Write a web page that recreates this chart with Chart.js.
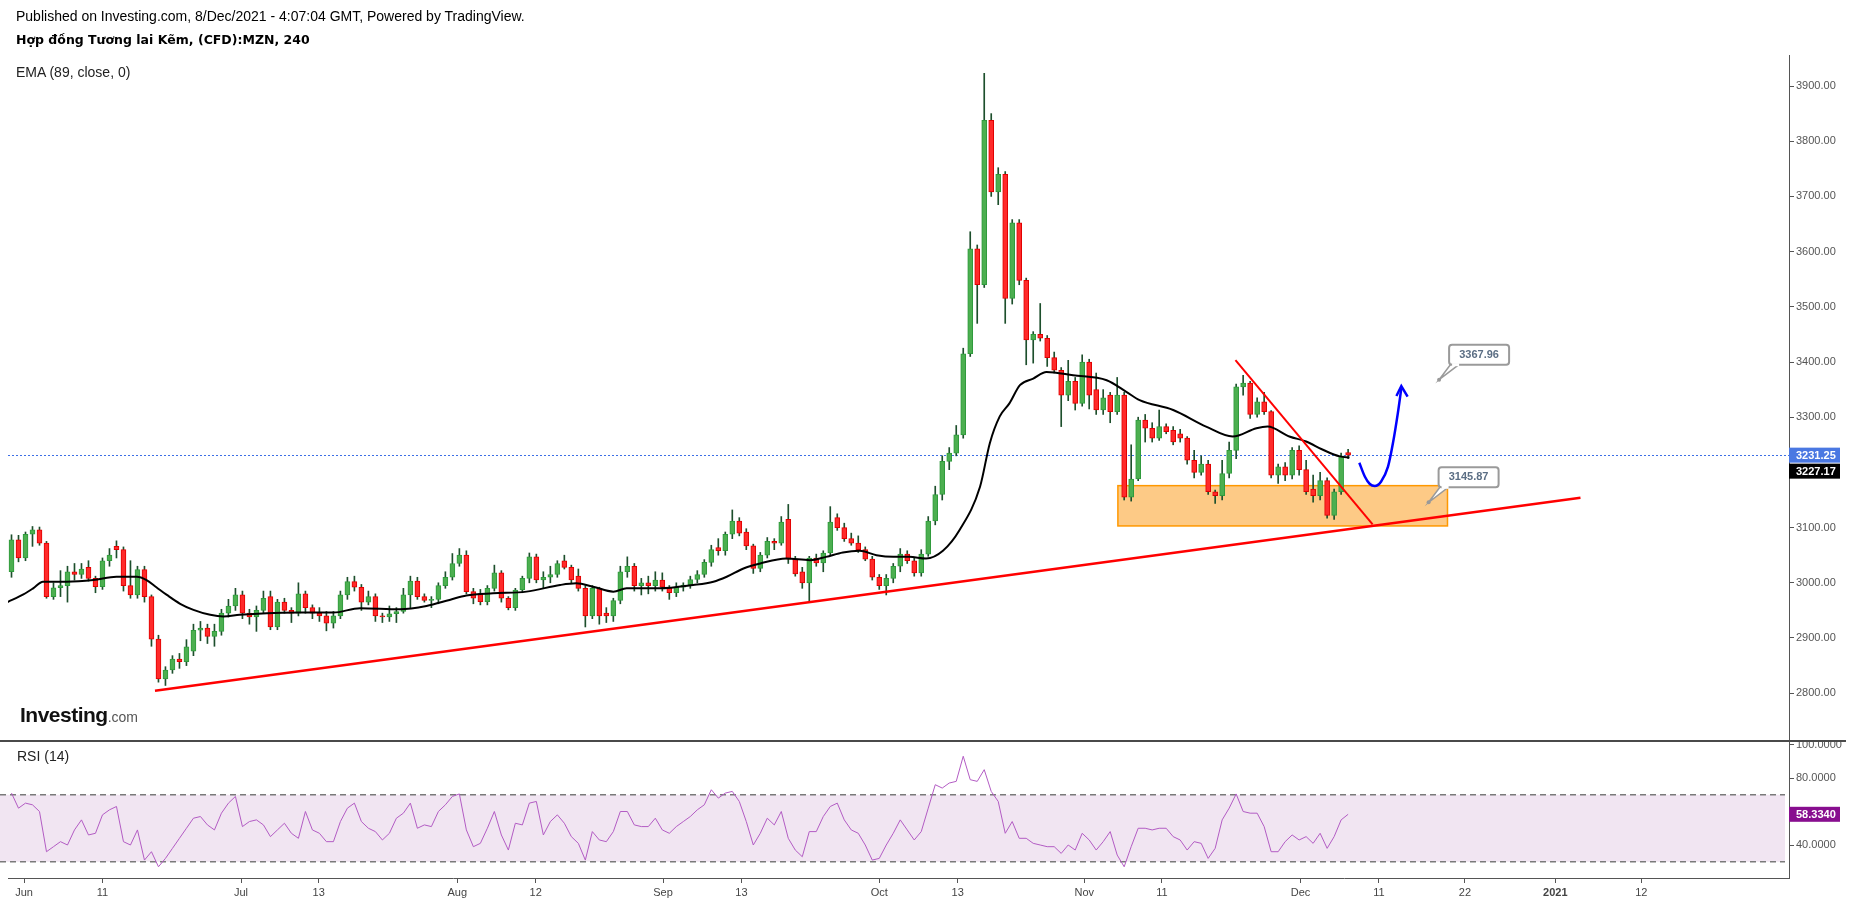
<!DOCTYPE html>
<html>
<head>
<meta charset="utf-8">
<script src="https://cdn.jsdelivr.net/npm/chart.js@4.4.0/dist/chart.umd.min.js"></script>
<style>
  body { margin: 0; background: #fff; width: 1853px; height: 902px; overflow: hidden; position: relative; font-family: "Liberation Sans", Arial, sans-serif; }
  canvas { position: absolute; left: 0; }
  #price { top: 0; }
  #rsi { top: 740px; }
  .txt { position: absolute; white-space: nowrap; color: #000; line-height: 16px; }
</style>
</head>
<body>
<canvas id="price" width="1853" height="740"></canvas>
<canvas id="rsi" width="1853" height="162"></canvas>
<div class="txt" style="left:16px;top:8px;font-size:14px">Published on Investing.com, 8/Dec/2021 - 4:07:04 GMT, Powered by TradingView.</div>
<div class="txt" style="left:16px;top:32px;font:bold 12.5px 'DejaVu Sans';line-height:16px">Hợp đồng Tương lai Kẽm, (CFD):MZN, 240</div>
<div class="txt" style="left:16px;top:64px;font-size:14px;color:#222">EMA (89, close, 0)</div>
<div class="txt" style="left:17px;top:748px;font-size:14px;color:#222">RSI (14)</div>
<div class="txt" style="left:20px;top:703px;font:bold 21px 'Liberation Sans';line-height:24px;color:#111;letter-spacing:-0.5px">Investing<span style="font:14px 'Liberation Sans';color:#555;letter-spacing:0">.com</span></div>
<script>
const F = '"Liberation Sans", Arial, sans-serif';

// 4h candles, [open, high, low, close]
const candles = [
  [3020,3087,3010,3078],[3078,3086,3038,3045],[3045,3092,3040,3088],[3088,3102,3066,3096],[3096,3101,3068,3072],
  [3072,3075,2972,2975],[2975,3000,2970,2991],[2991,3022,2975,2995],[2995,3030,2965,3020],[3020,3035,3005,3015],
  [3015,3035,3008,3025],[3028,3040,3003,3008],[3008,3012,2982,2993],[2993,3045,2988,3040],[3040,3062,3030,3050],
  [3066,3076,3045,3060],[3060,3065,2985,2995],[2995,3040,2972,2978],[2978,3030,2972,3024],[3024,3030,2965,2975],
  [2975,2978,2885,2898],[2898,2905,2820,2826],[2826,2848,2814,2842],[2842,2868,2836,2862],[2862,2872,2845,2857],
  [2857,2897,2850,2884],[2876,2925,2868,2914],[2914,2930,2895,2918],[2918,2925,2890,2903],[2903,2925,2885,2912],
  [2912,2952,2905,2945],[2945,2970,2938,2958],[2958,2990,2950,2978],[2978,2985,2935,2945],[2945,2952,2925,2938],
  [2938,2958,2912,2950],[2950,2985,2945,2972],[2975,2985,2915,2920],[2920,2970,2915,2965],[2965,2972,2945,2950],
  [2950,2955,2928,2945],[2945,3000,2940,2980],[2980,2985,2945,2955],[2955,2960,2935,2945],[2945,2955,2930,2940],
  [2940,2948,2913,2927],[2927,2948,2918,2940],[2940,2985,2935,2978],[2978,3010,2970,3002],[3002,3012,2985,2992],
  [2992,2997,2950,2965],[2965,2985,2960,2975],[2975,2980,2930,2940],[2940,2945,2928,2938],[2938,2958,2930,2944],
  [2944,2955,2928,2948],[2948,2990,2945,2978],[2978,3012,2955,3003],[3003,3010,2970,2975],[2975,2980,2965,2968],
  [2968,2975,2955,2970],[2970,3000,2962,2995],[2995,3020,2990,3010],[3010,3053,3005,3035],[3035,3062,3030,3050],
  [3050,3058,2980,2984],[2984,2990,2962,2972],[2980,2988,2960,2966],[2966,2995,2960,2990],[2990,3032,2985,3018],
  [3018,3022,2965,2972],[2972,2975,2951,2955],[2955,2990,2950,2987],[2987,3012,2982,3008],[3008,3054,3000,3047],
  [3047,3052,3000,3005],[3005,3020,2990,3010],[3010,3030,3000,3015],[3015,3040,3010,3035],[3040,3050,3025,3028],
  [3028,3032,3000,3005],[3012,3025,2985,2990],[2990,2995,2920,2940],[2940,2995,2935,2990],[2990,2992,2925,2940],
  [2945,2955,2928,2940],[2940,2972,2930,2968],[2968,3030,2962,3020],[3020,3047,3010,3030],[3030,3035,2985,2995],
  [2995,3008,2978,3000],[3000,3012,2980,2995],[2995,3020,2985,3005],[3005,3018,2985,2992],[2992,2995,2970,2982],
  [2982,3000,2975,2992],[2992,3000,2985,2996],[2996,3012,2990,3006],[3006,3022,3000,3015],[3015,3042,3010,3037],
  [3037,3068,3030,3060],[3064,3080,3050,3058],[3058,3092,3050,3088],[3088,3132,3080,3112],[3112,3118,3085,3090],
  [3092,3098,3060,3067],[3067,3070,3017,3026],[3026,3055,3020,3050],[3050,3082,3045,3075],[3075,3080,3060,3072],
  [3072,3120,3068,3110],[3115,3142,3035,3043],[3043,3048,3012,3016],[3020,3028,2990,3000],[3000,3048,2966,3045],
  [3045,3052,3030,3036],[3036,3058,3020,3054],[3054,3138,3050,3110],[3118,3125,3095,3100],[3100,3108,3075,3080],
  [3080,3090,3068,3072],[3072,3085,3055,3060],[3060,3065,3040,3043],[3043,3048,3005,3010],[3010,3015,2988,2995],
  [2995,3015,2978,3008],[3008,3035,3000,3030],[3030,3062,3020,3052],[3052,3058,3035,3040],[3040,3045,3012,3018],
  [3018,3060,3012,3052],[3052,3120,3048,3112],[3112,3175,3105,3160],[3160,3230,3150,3220],[3220,3245,3205,3235],
  [3235,3285,3230,3268],[3268,3425,3262,3415],[3415,3636,3410,3605],[3605,3612,3470,3540],[3540,3923,3535,3838],
  [3838,3850,3700,3708],[3708,3752,3685,3740],[3740,3745,3470,3515],[3515,3658,3505,3652],[3652,3658,3540,3548],
  [3548,3552,3395,3440],[3440,3455,3398,3450],[3450,3506,3438,3443],[3443,3448,3392,3408],[3408,3418,3380,3385],
  [3385,3390,3283,3340],[3340,3403,3330,3365],[3365,3372,3313,3325],[3325,3413,3320,3400],[3400,3405,3315,3340],
  [3350,3380,3305,3313],[3313,3350,3305,3335],[3340,3345,3290,3310],[3310,3372,3305,3340],[3340,3345,3150,3155],
  [3155,3250,3148,3188],[3188,3300,3185,3295],[3295,3305,3255,3280],[3280,3290,3255,3262],[3262,3313,3258,3283],
  [3283,3288,3270,3274],[3276,3283,3250,3255],[3270,3278,3255,3262],[3262,3265,3215,3222],[3222,3240,3190,3200],
  [3200,3230,3195,3215],[3215,3222,3160,3165],[3165,3168,3144,3158],[3158,3222,3150,3198],[3198,3255,3190,3240],
  [3240,3360,3225,3355],[3355,3376,3340,3362],[3362,3365,3298,3305],[3305,3335,3300,3328],[3328,3345,3305,3310],
  [3310,3312,3190,3195],[3195,3215,3180,3210],[3210,3218,3185,3195],[3195,3245,3188,3240],[3240,3248,3195,3205],
  [3205,3222,3160,3165],[3170,3195,3146,3158],[3158,3200,3150,3185],[3185,3190,3117,3122],[3122,3170,3115,3165],
  [3165,3235,3160,3230],[3236,3242,3225,3231.25]
];

// EMA(89), at candle positions
const emaAt = [-0.6,1.7,3.1,4.5,7.9,11.7,15.0,17.9,19.3,20.7,22.2,24.1,26.0,28.4,30.3,32.6,36.5,41.2,46.0,49.8,
  55.5,59.3,62.6,65.0,68.8,73.6,78.4,80.7,83.1,86.0,87.9,92.6,97.4,100.3,102.2,104.6,107.0,110.7,114.1,116.4,
  118.8,121.2,123.6,126.0,128.3,130.7,133.1,135.5,138.4,139.8,141.2,142.6,144.1,146.0,147.9,151.7,156.5,159.3,161.2,166.0,
  170.7,174.5,177.9,179.5,182.6,185.0,187.4,189.8,191.2];
const emaVal = [2965,2979,2990,3002,3002,3005,3011,3011,3005,2992,2978,2962,2951,2942,2939,2942,2945,2946,2946,2954,
  2952,2958,2969,2977,2981,2984,2996,2999,2993,2984,2990,2990,2996,3002,3011,3026,3035,3044,3041,3047,
  3055,3058,3050,3047,3047,3044,3058,3096,3174,3253,3301,3325,3358,3370,3382,3376,3367,3346,3331,3313,
  3283,3265,3280,3283,3265,3256,3241,3229,3227.17];

// RSI(14), one value per candle
const rsiVal = [
  71,62,65,64,60,36,39,42,40,49, 55,46,47,58,61,63,42,40,49,31, 36,27,32,38,44,50,56,57,52,49,
  59,65,69,51,54,55,52,45,49,53, 47,44,60,49,47,42,42,54,62,65, 54,50,48,43,47,56,59,65,50,52,
  51,60,64,69,70.5,49,39,41,50,60, 46,37,53,52,65,66,46,54,58,53, 45,41,31,48,43,42,48,60,60,52,
  51,51,56,49,47,51,54,57,61,64, 73,68,71,72,66,54,40,47,56,52, 60,44,37,33,48,48,57,63,65,55,
  49,47,40,31,32,40,47,55,49,43, 48,62,76,74,77,78,93,79,78,85, 72,66,47,54,44,44,41,40,39,39,
  35,40,37,47,43,37,42,48,34,27, 39,50,50,49,50,50,45,43,37,42, 41,32,38,55,62,70.5,60,59,59,51,
  36,36,42,46,43,45,41,47,38,45, 55,58.334
];

const priceTicks = [2800,2900,3000,3100,3200,3300,3400,3500,3600,3700,3800,3900];
const rsiTicks = [40,80,100];
const rsiBand = [30,70];
const dateTicks = [1.8,13.0,32.8,43.9,63.7,74.9,93.1,104.3,124.0,135.2,153.3,164.4,184.2,195.4,207.7,220.6,232.9];
const dateLabels = ['Jun','11','Jul','13','Aug','12','Sep','13','Oct','13','Nov','11','Dec','11','22','2021','12'];

// drawings on the price pane, in (candle position, price)
const supportX = [20.5,224.2], supportY = [2804.5,3154];
const resistX = [174.9,194.5], resistY = [3403.6,3106];
const zoneX = [158.1,205.2], zoneY = [3103,3176];
const pathX = [192.6,193.4,194.1,194.8,195.7,196.7,197.4,198.1,198.6];
const pathY = [3217.6,3192.2,3179,3175.4,3183.2,3210.4,3252.7,3307,3352.3];
const arrowX = [197.9,198.6,199.5], arrowY = [3338.4,3356.5,3337.1];
const calloutX = [204.0,202.5], calloutY = [3367.96,3145.87];
const lastPrice = 3231.25, lastEma = 3227.17, lastRsi = 58.334;

const pts = (xs, ys) => xs.map((x, i) => ({x, y: ys[i]}));
const isUp = candles.map(c => c[3] >= c[0]);

function boxPath(ctx, x, y, w, h, r) {
  ctx.beginPath();
  ctx.moveTo(x + r, y);
  ctx.lineTo(x + w - r, y); ctx.quadraticCurveTo(x + w, y, x + w, y + r);
  ctx.lineTo(x + w, y + h - r); ctx.quadraticCurveTo(x + w, y + h, x + w - r, y + h);
  ctx.lineTo(x + r, y + h); ctx.quadraticCurveTo(x, y + h, x, y + h - r);
  ctx.lineTo(x, y + r); ctx.quadraticCurveTo(x, y, x + r, y);
  ctx.closePath();
}

function axisTag(ctx, left, y, text, bg) {
  ctx.fillStyle = bg;
  ctx.fillRect(left, y - 7.5, 51, 15);
  ctx.fillStyle = '#fff';
  ctx.font = 'bold 11px ' + F;
  ctx.textAlign = 'left';
  ctx.textBaseline = 'middle';
  ctx.fillText(text, left + 7, y + 0.5);
}

const pricePlugin = {
  id: 'priceDecor',
  beforeDatasetsDraw(chart) {
    const {ctx, scales: {x, y}} = chart;
    const x0 = x.getPixelForValue(zoneX[0]), x1 = x.getPixelForValue(zoneX[1]);
    const y0 = y.getPixelForValue(zoneY[1]), y1 = y.getPixelForValue(zoneY[0]);
    ctx.save();
    ctx.fillStyle = '#fdca86';
    ctx.fillRect(x0, y0, x1 - x0, y1 - y0);
    ctx.strokeStyle = '#ff9800';
    ctx.lineWidth = 1.5;
    ctx.strokeRect(x0, y0, x1 - x0, y1 - y0);
    // last price line
    const ly = Math.round(y.getPixelForValue(lastPrice)) + 0.5;
    ctx.strokeStyle = '#3d6fe6';
    ctx.lineWidth = 1;
    ctx.setLineDash([2, 2]);
    ctx.beginPath();
    ctx.moveTo(chart.chartArea.left, ly);
    ctx.lineTo(chart.chartArea.right, ly);
    ctx.stroke();
    ctx.restore();
  },
  afterDatasetsDraw(chart) {
    const {ctx, scales: {x, y}} = chart;
    ctx.save();
    calloutX.forEach((xv, k) => {
      const px = x.getPixelForValue(xv), py = y.getPixelForValue(calloutY[k]);
      ctx.lineWidth = 1.5;
      ctx.strokeStyle = '#9a9a9a';
      ctx.fillStyle = '#fff';
      ctx.beginPath();
      ctx.moveTo(px, py);
      ctx.lineTo(px + 12, py - 16);
      ctx.lineTo(px + 21, py - 16);
      ctx.closePath();
      ctx.fill();
      ctx.stroke();
      boxPath(ctx, px + 10, py - 35, 60, 20, 3);
      ctx.fill();
      ctx.lineWidth = 2;
      ctx.stroke();
      ctx.fillStyle = '#fff';
      ctx.fillRect(px + 13, py - 16.5, 7, 3);
      ctx.fillStyle = '#5b6e84';
      ctx.font = 'bold 11px ' + F;
      ctx.textAlign = 'center';
      ctx.textBaseline = 'middle';
      ctx.fillText(calloutY[k].toFixed(2), px + 40, py - 25);
      ctx.fillStyle = '#999';
      ctx.beginPath();
      ctx.arc(px, py, 2, 0, Math.PI * 2);
      ctx.fill();
    });
    ctx.restore();
  },
  afterDraw(chart) {
    const {ctx, scales: {y}, chartArea} = chart;
    ctx.save();
    const ly = y.getPixelForValue(lastPrice);
    axisTag(ctx, chartArea.right, ly, lastPrice.toFixed(2), '#4a78e2');
    axisTag(ctx, chartArea.right, ly + 16, lastEma.toFixed(2), '#000');
    ctx.restore();
  }
};

const rsiPlugin = {
  id: 'rsiDecor',
  beforeDatasetsDraw(chart) {
    const {ctx, scales: {y}, chartArea} = chart;
    const y0 = y.getPixelForValue(rsiBand[1]), y1 = y.getPixelForValue(rsiBand[0]);
    ctx.save();
    ctx.fillStyle = '#f1e5f2';
    ctx.fillRect(chartArea.left - 8, y0, chartArea.right - chartArea.left + 4, y1 - y0);
    ctx.strokeStyle = '#7a7a7a';
    ctx.lineWidth = 1.5;
    ctx.setLineDash([6, 4]);
    [y0, y1].forEach(v => {
      ctx.beginPath();
      ctx.moveTo(chartArea.left - 8, v);
      ctx.lineTo(chartArea.right - 4, v);
      ctx.stroke();
    });
    ctx.restore();
  },
  afterDraw(chart) {
    const {ctx, scales: {y}, chartArea} = chart;
    ctx.save();
    ctx.strokeStyle = '#4a4a4a';
    ctx.lineWidth = 2;
    ctx.beginPath();
    ctx.moveTo(0, 1);
    ctx.lineTo(1846, 1);
    ctx.stroke();
    axisTag(ctx, chartArea.right, y.getPixelForValue(lastRsi), lastRsi.toFixed(4), '#880e8f');
    ctx.restore();
  }
};

const xRange = {type: 'linear', min: -0.5, max: 254, offset: false};
const noPad = s => { s.paddingTop = 0; s.paddingBottom = 0; s.paddingLeft = 0; s.paddingRight = 0; };

new Chart(document.getElementById('price'), {
  type: 'bar',
  data: {
    datasets: [
      { type: 'line', data: pts(supportX, supportY), borderColor: '#ff0000', borderWidth: 2.5, pointRadius: 0, order: 0 },
      { type: 'line', data: pts(resistX, resistY), borderColor: '#ff0000', borderWidth: 2, pointRadius: 0, order: 0 },
      { type: 'line', data: pts(pathX, pathY), borderColor: '#0000ff', borderWidth: 2.5, pointRadius: 0,
        cubicInterpolationMode: 'monotone', order: 0 },
      { type: 'line', data: pts(arrowX, arrowY), borderColor: '#0000ff', borderWidth: 2.5, pointRadius: 0, order: 0 },
      { type: 'line', data: pts(emaAt, emaVal), borderColor: '#000', borderWidth: 2, pointRadius: 0,
        cubicInterpolationMode: 'monotone', order: 1 },
      { type: 'bar', data: candles.map((c, i) => ({x: i, y: [c[0], c[3]]})), grouped: false, barThickness: 5,
        minBarLength: 1, borderWidth: 1, borderSkipped: false,
        backgroundColor: isUp.map(u => u ? '#4caf50' : '#ff2a2a'),
        borderColor: isUp.map(u => u ? '#2f9a3c' : '#e00000'), order: 2 },
      { type: 'bar', data: candles.map((c, i) => ({x: i, y: [c[2], c[1]]})), grouped: false, barThickness: 1,
        backgroundColor: '#1d4f2c', order: 3 }
    ]
  },
  options: {
    responsive: false,
    animation: false,
    layout: { padding: { top: 55, left: 8, right: 0, bottom: 0 } },
    plugins: { legend: { display: false }, tooltip: { enabled: false } },
    scales: {
      x: Object.assign({ display: false }, xRange),
      y: {
        position: 'right',
        min: 2715.2,
        max: 3956.2,
        afterBuildTicks: s => { s.ticks = priceTicks.map(v => ({value: v})); },
        afterFit: s => { s.width = 64; noPad(s); },
        ticks: { callback: v => v.toFixed(2), color: '#555', font: { size: 11, family: F }, padding: 2 },
        grid: { drawOnChartArea: false, tickLength: 5, color: '#555' },
        border: { color: '#555' }
      }
    }
  },
  plugins: [pricePlugin]
});

new Chart(document.getElementById('rsi'), {
  type: 'line',
  data: {
    datasets: [
      { data: rsiVal.map((v, i) => ({x: i, y: v})), borderColor: '#b35cc4', borderWidth: 1, pointRadius: 0, tension: 0 }
    ]
  },
  options: {
    responsive: false,
    animation: false,
    layout: { padding: { top: 0, left: 8, right: 0, bottom: 0 } },
    plugins: { legend: { display: false }, tooltip: { enabled: false } },
    scales: {
      x: Object.assign({
        position: 'bottom',
        afterBuildTicks: s => { s.ticks = dateTicks.map(v => ({value: v})); },
        afterFit: s => { s.height = 24; noPad(s); },
        ticks: {
          autoSkip: false, maxRotation: 0, padding: 3, color: '#444',
          callback: (v, k) => dateLabels[k],
          font: ctx => ({ size: 11, family: F, weight: dateLabels[ctx.index] === '2021' ? 'bold' : 'normal' })
        },
        grid: { drawOnChartArea: false, tickLength: 5, color: '#555' },
        border: { color: '#555' }
      }, xRange),
      y: {
        position: 'right',
        min: 20.3,
        max: 102.7,
        afterBuildTicks: s => { s.ticks = rsiTicks.map(v => ({value: v})); },
        afterFit: s => { s.width = 64; noPad(s); },
        ticks: { callback: v => v.toFixed(4), color: '#555', font: { size: 11, family: F }, padding: 2 },
        grid: { drawOnChartArea: false, tickLength: 5, color: '#555' },
        border: { color: '#555' }
      }
    }
  },
  plugins: [rsiPlugin]
});
</script>
</body>
</html>
